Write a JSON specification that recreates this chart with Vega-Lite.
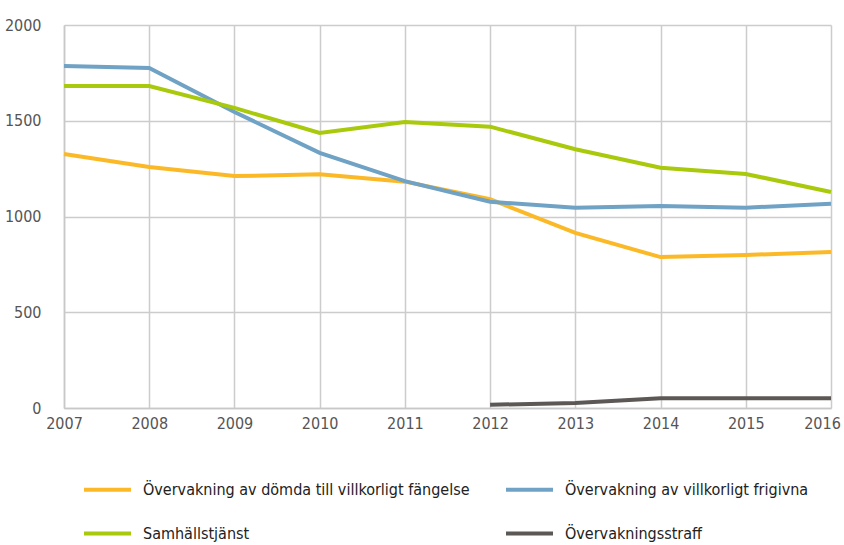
{
  "$schema": "https://vega.github.io/schema/vega-lite/v6.json",
  "width": 767,
  "height": 383,
  "autosize": {"type": "none"},
  "padding": {"left": 64, "top": 25, "right": 13, "bottom": 137},
  "background": "white",
  "config": {
    "font": "DejaVu Sans Condensed",
    "view": {"stroke": null}
  },
  "data": {
    "values": [
      {"year": 2007, "serie": "Övervakning av dömda till villkorligt fängelse", "value": 1326},
      {"year": 2008, "serie": "Övervakning av dömda till villkorligt fängelse", "value": 1258},
      {"year": 2009, "serie": "Övervakning av dömda till villkorligt fängelse", "value": 1211},
      {"year": 2010, "serie": "Övervakning av dömda till villkorligt fängelse", "value": 1220},
      {"year": 2011, "serie": "Övervakning av dömda till villkorligt fängelse", "value": 1182},
      {"year": 2012, "serie": "Övervakning av dömda till villkorligt fängelse", "value": 1090},
      {"year": 2013, "serie": "Övervakning av dömda till villkorligt fängelse", "value": 914},
      {"year": 2014, "serie": "Övervakning av dömda till villkorligt fängelse", "value": 788},
      {"year": 2015, "serie": "Övervakning av dömda till villkorligt fängelse", "value": 799},
      {"year": 2016, "serie": "Övervakning av dömda till villkorligt fängelse", "value": 815},
      {"year": 2007, "serie": "Övervakning av villkorligt frigivna", "value": 1786},
      {"year": 2008, "serie": "Övervakning av villkorligt frigivna", "value": 1775},
      {"year": 2009, "serie": "Övervakning av villkorligt frigivna", "value": 1546},
      {"year": 2010, "serie": "Övervakning av villkorligt frigivna", "value": 1332},
      {"year": 2011, "serie": "Övervakning av villkorligt frigivna", "value": 1185},
      {"year": 2012, "serie": "Övervakning av villkorligt frigivna", "value": 1077},
      {"year": 2013, "serie": "Övervakning av villkorligt frigivna", "value": 1046},
      {"year": 2014, "serie": "Övervakning av villkorligt frigivna", "value": 1055},
      {"year": 2015, "serie": "Övervakning av villkorligt frigivna", "value": 1046},
      {"year": 2016, "serie": "Övervakning av villkorligt frigivna", "value": 1067},
      {"year": 2007, "serie": "Samhällstjänst", "value": 1681},
      {"year": 2008, "serie": "Samhällstjänst", "value": 1681},
      {"year": 2009, "serie": "Samhällstjänst", "value": 1567},
      {"year": 2010, "serie": "Samhällstjänst", "value": 1436},
      {"year": 2011, "serie": "Samhällstjänst", "value": 1493},
      {"year": 2012, "serie": "Samhällstjänst", "value": 1469},
      {"year": 2013, "serie": "Samhällstjänst", "value": 1351},
      {"year": 2014, "serie": "Samhällstjänst", "value": 1255},
      {"year": 2015, "serie": "Samhällstjänst", "value": 1222},
      {"year": 2016, "serie": "Samhällstjänst", "value": 1128},
      {"year": 2012, "serie": "Övervakningsstraff", "value": 17},
      {"year": 2013, "serie": "Övervakningsstraff", "value": 26},
      {"year": 2014, "serie": "Övervakningsstraff", "value": 51},
      {"year": 2015, "serie": "Övervakningsstraff", "value": 51},
      {"year": 2016, "serie": "Övervakningsstraff", "value": 51}
    ]
  },
  "mark": {"type": "line", "strokeWidth": 4, "strokeCap": "butt", "strokeJoin": "miter"},
  "encoding": {
    "x": {
      "field": "year",
      "type": "quantitative",
      "scale": {"domain": [2007, 2016], "nice": false, "zero": false},
      "axis": {
        "title": null,
        "values": [2007, 2008, 2009, 2010, 2011, 2012, 2013, 2014, 2015, 2016],
        "format": "d",
        "labelFont": "DejaVu Sans Condensed",
        "labelFontSize": 16,
        "labelColor": "#555555",
        "labelPadding": 7,
        "labelFlush": false,
        "labelOverlap": false,
        "labelOffset": {"expr": "datum.value == 2016 ? -9 : 0"},
        "ticks": false,
        "domainColor": "#c8c8c8",
        "domainWidth": 1.5,
        "gridColor": "#cccccc",
        "gridWidth": 1.5,
        "grid": true
      }
    },
    "y": {
      "field": "value",
      "type": "quantitative",
      "scale": {"domain": [0, 2000], "nice": false},
      "axis": {
        "title": null,
        "values": [0, 500, 1000, 1500, 2000],
        "format": "d",
        "labelFont": "DejaVu Sans Condensed",
        "labelFontSize": 16,
        "labelColor": "#555555",
        "labelPadding": 23,
        "labelFlush": false,
        "ticks": false,
        "domainColor": "#c8c8c8",
        "domainWidth": 1.5,
        "gridColor": "#cccccc",
        "gridWidth": 1.5
      }
    },
    "color": {
      "field": "serie",
      "type": "nominal",
      "scale": {
        "domain": ["Övervakning av dömda till villkorligt fängelse", "Samhällstjänst", "Övervakning av villkorligt frigivna", "Övervakningsstraff"],
        "range": ["#fbb927", "#a9c90c", "#6fa2c4", "#5c5856"]
      },
      "legend": {
        "title": null,
        "orient": "none",
        "legendX": 18,
        "legendY": 439,
        "columns": 2,
        "columnPadding": 28,
        "rowPadding": 10,
        "symbolType": "stroke",
        "symbolSize": 2209,
        "symbolStrokeWidth": 4,
        "labelFont": "DejaVu Sans Condensed",
        "labelFontSize": 16,
        "labelColor": "#222222",
        "labelOffset": 10,
        "labelLimit": 500
      }
    }
  }
}
